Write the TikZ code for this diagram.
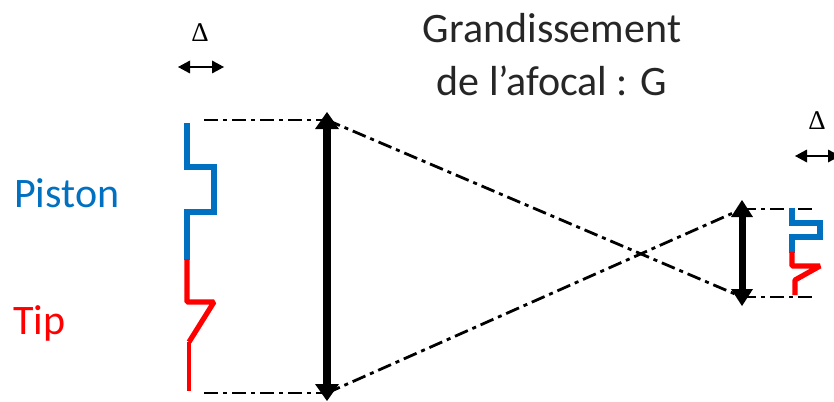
\documentclass[tikz,border=0pt]{standalone}
\usepackage{fontspec}
\setmainfont{Carlito}
\newfontfamily\deltafont{Liberation Serif}
\usetikzlibrary{arrows.meta}
\definecolor{pblue}{HTML}{0070C0}
\definecolor{pred}{HTML}{FF0000}
\tikzset{
  px/.style={x=1pt,y=-1pt},
  chain/.style={line width=2.8pt,dash pattern=on 14pt off 5pt on 4pt off 5pt},
  lens/.style={line width=7.5pt,{Triangle[length=17pt,width=24pt,line width=0pt]}-{Triangle[length=17pt,width=24pt,line width=0pt]}},
  smalllens/.style={line width=7pt,{Triangle[length=17pt,width=22pt,line width=0pt]}-{Triangle[length=17pt,width=22pt,line width=0pt]}},
  wave/.style={line width=5.2pt,line join=miter},
  blueedge/.style={wave,draw=pblue},
  rededge/.style={wave,draw=pred,line join=bevel},
  shift arrow/.style={line width=2.8pt,{Triangle[length=12pt,width=13pt,line width=0pt]}-{Triangle[length=12pt,width=13pt,line width=0pt]}},
  title/.style={font=\fontsize{42}{42}\selectfont,inner sep=0pt,anchor=center,text=black!85},
  side/.style={font=\fontsize{42}{42}\selectfont,inner sep=0pt,anchor=west},
  delta/.style={font=\deltafont\fontsize{27}{27}\selectfont,inner sep=0pt,anchor=center}
}
\begin{document}
\begin{tikzpicture}[px]
\path[use as bounding box] (0,0) rectangle (834,401);
\clip (0,0) rectangle (834,401);
\fill[white] (0,0) rectangle (834,401);
\coordinate (bigT) at (327,112);
\coordinate (bigB) at (327,401);
\coordinate (bigTc) at (327,120);
\coordinate (bigBc) at (327,393);
\coordinate (smT) at (742,200);
\coordinate (smB) at (742,306);
\coordinate (smTc) at (742,209);
\coordinate (smBc) at (742,297);
\coordinate (lT) at (204,120);
\coordinate (lB) at (204,393);
\coordinate (rT) at (815,209);
\coordinate (rB) at (815,297);
\coordinate (dlA) at (178,67);
\coordinate (dlB) at (224,67);
\coordinate (drA) at (795,156);
\coordinate (drB) at (840,156);
\node[title] (t1) at (552,28) {Grandissement};
\node[title] (t2) at (552,81) {de l’afocal : G};
\node[side,text=pblue] (piston) at (14,193) {Piston};
\node[side,text=pred] (tip) at (13,323) {Tip};
\node[delta] (d1) at (200,33) {Δ};
\node[delta] (d2) at (817,121) {Δ};
\draw[chain] (lT) -- (bigTc);
\draw[chain] (lB) -- (bigBc);
\draw[chain] (bigTc) -- (smBc);
\draw[chain] (bigBc) -- (smTc);
\draw[chain] (smTc) -- (rT);
\draw[chain] (smBc) -- (rB);
\draw[lens] (bigT) -- (bigB);
\draw[smalllens] (smT) -- (smB);
\draw[shift arrow] (dlA) -- (dlB);
\draw[shift arrow] (drA) -- (drB);
\draw[blueedge] (187,123) -- (187,167) -- (214,167) -- (214,212) -- (187,212) -- (187,260);
\draw[rededge] (187,259) -- (187,302) -- (214,302) -- (189,342);
\draw[rededge,line width=4pt] (189,342) -- (189,391);
\draw[blueedge] (792,208) -- (792,223) -- (820,223) -- (820,237) -- (792,237) -- (792,253);
\draw[rededge] (792,252) -- (792,266) -- (820,266) -- (795,280) -- (795,295);
\end{tikzpicture}
\end{document}
